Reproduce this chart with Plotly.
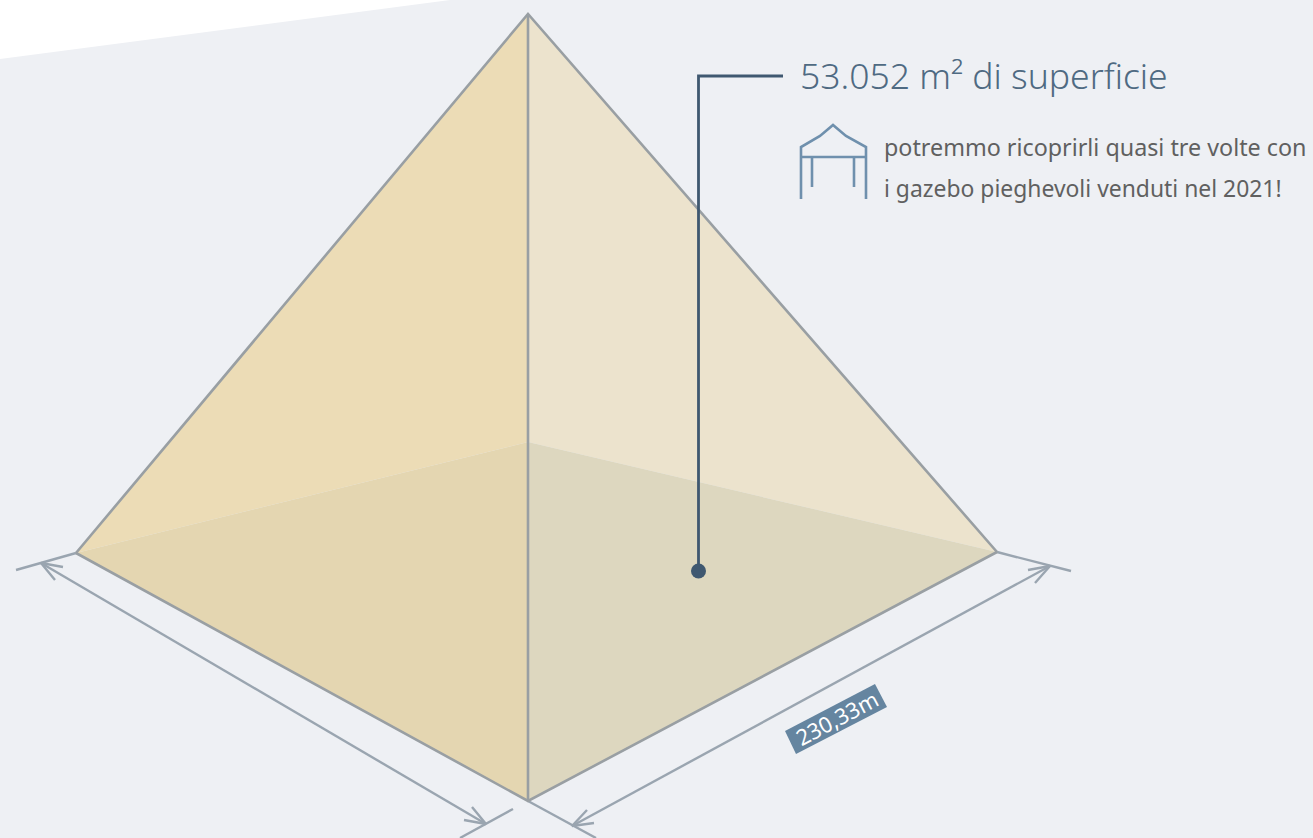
import plotly.graph_objects as go

WIDTH, HEIGHT = 1313, 838
FONT = "Noto Sans"

# Pyramid vertices in picture units
APEX = (528, 14)
LEFT = (76, 553)
RIGHT = (997, 552)
FRONT = (528, 801)
BACK = (528, 442)

# Background band
band_x = [0, 450, 0]
band_y = [59, 0, 0]

# Faces: vertices and colours
faces = [
    ([APEX, LEFT, BACK], "#ecdcb6"),
    ([APEX, RIGHT, BACK], "#ece3cd"),
    ([LEFT, BACK, FRONT], "#e4d6b1"),
    ([RIGHT, BACK, FRONT], "#ddd7bf"),
]

edges = [
    [LEFT, APEX, RIGHT],
    [APEX, FRONT],
    [LEFT, FRONT, RIGHT],
]

dimension_lines = [
    [LEFT, (16, 570)],
    [RIGHT, (1071, 571)],
    [FRONT, (596, 838)],
    [(513, 809), (460, 838)],
    [(41, 563), (486, 824)],
    [(572, 826), (1050, 566)],
    [(63, 567), (41, 563), (55, 580)],
    [(1028, 570), (1050, 566), (1035, 583)],
    [(472, 807), (486, 824), (464, 820)],
    [(587, 810), (572, 826), (594, 823)],
]

callout_x = [783, 698.5, 698.5]
callout_y = [76, 76, 571]

tent_lines = [
    [(801, 199), (801, 147), (820, 136), (833, 125), (846, 136), (866, 147), (866, 199)],
    [(801, 157), (866, 157)],
    [(812, 157), (812, 187)],
    [(854, 157), (854, 187)],
]

label_box = [(785, 731), (875, 684), (887, 707), (796, 754), (785, 731)]

title_text = "53.052 m² di superficie"
note_lines = ["potremmo ricoprirli quasi tre volte con", "i gazebo pieghevoli venduti nel 2021!"]
dimension_text = "230,33m"


def xs(points):
    return [p[0] for p in points]


def ys(points):
    return [p[1] for p in points]


fig = go.Figure()


def add_fill(x, y, color):
    fig.add_trace(go.Scatter(x=x, y=y, mode="lines", fill="toself", fillcolor=color,
                             line=dict(width=0), hoverinfo="skip", showlegend=False))


def add_line(points, color, width=2):
    fig.add_trace(go.Scatter(x=xs(points), y=ys(points), mode="lines",
                             line=dict(color=color, width=width, shape="linear"),
                             hoverinfo="skip", showlegend=False))


add_fill(band_x, band_y, "#ffffff")
for pts, col in faces:
    add_fill(xs(pts), ys(pts), col)
for pts in dimension_lines:
    add_line(pts, "#9aa5b0", 2.4)
for pts in edges:
    add_line(pts, "#999fa3", 2.6)
for pts in tent_lines:
    add_line(pts, "#6f90ad", 2.6)
add_fill(xs(label_box), ys(label_box), "#6585a0")

fig.add_trace(go.Scatter(x=callout_x, y=callout_y, mode="lines",
                         line=dict(color="#3f5870", width=2.8),
                         hoverinfo="skip", showlegend=False))
fig.add_trace(go.Scatter(x=callout_x[-1:], y=callout_y[-1:], mode="markers",
                         marker=dict(color="#3f5870", size=15),
                         hoverinfo="skip", showlegend=False))

fig.add_annotation(x=798, y=75, text=title_text, showarrow=False, xanchor="left", yanchor="middle",
                   font=dict(family=FONT, size=35.5, color="#4f6a82", weight=300))
fig.add_annotation(x=882, y=147, text=note_lines[0], showarrow=False, xanchor="left", yanchor="middle",
                   font=dict(family=FONT, size=23.3, color="#606060"))
fig.add_annotation(x=882, y=188, text=note_lines[1], showarrow=False, xanchor="left", yanchor="middle",
                   font=dict(family=FONT, size=22.9, color="#606060"))
fig.add_annotation(x=836, y=718, text=dimension_text, showarrow=False, textangle=-28,
                   font=dict(family=FONT, size=22, color="#ffffff"))

fig.update_layout(
    width=WIDTH, height=HEIGHT,
    margin=dict(l=0, r=0, t=0, b=0),
    paper_bgcolor="#eef0f4", plot_bgcolor="#eef0f4",
    xaxis=dict(range=[0, WIDTH], visible=False, fixedrange=True),
    yaxis=dict(range=[HEIGHT, 0], visible=False, fixedrange=True),
    showlegend=False,
)
fig.write_html("out.html", config=dict(displayModeBar=False),
               post_script="document.body.style.margin='0';document.body.style.overflow='hidden';")
